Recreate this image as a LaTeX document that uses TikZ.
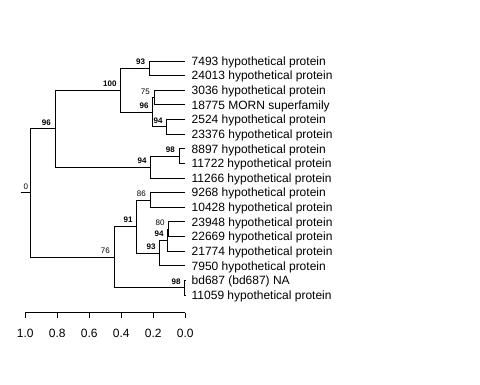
\documentclass[tikz,border=0pt]{standalone}
\usepackage{fontspec}
\setmainfont{Liberation Sans}
\begin{document}
\begin{tikzpicture}[x=1pt,y=-1pt,
  edge/.style={draw=black,line width=0.8pt},
  leaf/.style={anchor=west,inner xsep=6.2pt,inner ysep=0pt,text height=8.6pt,text depth=0pt,font=\fontsize{12}{12}\selectfont},
  bs/.style={anchor=base east,inner sep=0pt,font=\fontsize{8}{8}\selectfont},
  bsb/.style={anchor=base east,inner sep=0pt,font=\fontsize{8}{8}\selectfont\bfseries},
  ticklab/.style={anchor=center,inner sep=0pt,text height=8.6pt,text depth=0pt,font=\fontsize{12}{12}\selectfont}]
\useasboundingbox (0,0) rectangle (480,384);
% internal nodes
\coordinate (rootstub) at (20.7,192.85);
\coordinate (root) at (30.7,192.85);
\coordinate (A) at (55,128.64);
\coordinate (B) at (120.7,90.25);
\coordinate (C) at (149.3,68.31);
\coordinate (D) at (152.7,112.19);
\coordinate (E) at (154,97.56);
\coordinate (F) at (166.7,126.81);
\coordinate (G) at (150.7,167.03);
\coordinate (H) at (179,156.06);
\coordinate (I) at (114,257.07);
\coordinate (J) at (184.8,287.69);
\coordinate (K) at (136.7,226.45);
\coordinate (L) at (150,199.94);
\coordinate (M) at (159.7,252.95);
\coordinate (N) at (167.7,240.16);
\coordinate (O) at (168.7,229.19);
% leaves
\node[leaf] (l0) at (185.3,61) {7493 hypothetical protein};
\node[leaf] (l1) at (185.3,75.625) {24013 hypothetical protein};
\node[leaf] (l2) at (185.3,90.25) {3036 hypothetical protein};
\node[leaf] (l3) at (185.3,104.875) {18775 MORN superfamily};
\node[leaf] (l4) at (185.3,119.5) {2524 hypothetical protein};
\node[leaf] (l5) at (185.3,134.125) {23376 hypothetical protein};
\node[leaf] (l6) at (185.3,148.75) {8897 hypothetical protein};
\node[leaf] (l7) at (185.3,163.375) {11722 hypothetical protein};
\node[leaf] (l8) at (185.3,178) {11266 hypothetical protein};
\node[leaf] (l9) at (185.3,192.625) {9268 hypothetical protein};
\node[leaf] (l10) at (185.3,207.25) {10428 hypothetical protein};
\node[leaf] (l11) at (185.3,221.875) {23948 hypothetical protein};
\node[leaf] (l12) at (185.3,236.5) {22669 hypothetical protein};
\node[leaf] (l13) at (185.3,251.125) {21774 hypothetical protein};
\node[leaf] (l14) at (185.3,265.75) {7950 hypothetical protein};
\node[leaf] (l15) at (185.3,280.375) {bd687 (bd687) NA};
\node[leaf] (l16) at (185.3,295) {11059 hypothetical protein};
% edges
\draw[edge] (rootstub) -- (root);
\draw[edge] (root) |- (A);
\draw[edge] (root) |- (I);
\draw[edge] (A) |- (B);
\draw[edge] (A) |- (G);
\draw[edge] (B) |- (C);
\draw[edge] (B) |- (D);
\draw[edge] (C) |- (l0.west);
\draw[edge] (C) |- (l1.west);
\draw[edge] (D) |- (E);
\draw[edge] (D) |- (F);
\draw[edge] (E) |- (l2.west);
\draw[edge] (E) |- (l3.west);
\draw[edge] (F) |- (l4.west);
\draw[edge] (F) |- (l5.west);
\draw[edge] (G) |- (H);
\draw[edge] (G) |- (l8.west);
\draw[edge] (H) |- (l6.west);
\draw[edge] (H) |- (l7.west);
\draw[edge] (I) |- (K);
\draw[edge] (I) |- (J);
\draw[edge] (K) |- (L);
\draw[edge] (K) |- (M);
\draw[edge] (L) |- (l9.west);
\draw[edge] (L) |- (l10.west);
\draw[edge] (M) |- (N);
\draw[edge] (M) |- (l14.west);
\draw[edge] (N) |- (O);
\draw[edge] (N) |- (l13.west);
\draw[edge] (O) |- (l11.west);
\draw[edge] (O) |- (l12.west);
\draw[edge] (J) |- (l15.west);
\draw[edge] (J) |- (l16.west);
% bootstrap labels
\node[bs]  (broot) at ([xshift=-2.5pt,yshift=3.5pt]root) {0};
\node[bsb] (bA) at ([xshift=-4pt,yshift=3.5pt]A) {96};
\node[bsb] (bB) at ([xshift=-4pt,yshift=3.5pt]B) {100};
\node[bsb] (bC) at ([xshift=-4pt,yshift=3.5pt]C) {93};
\node[bsb] (bD) at ([xshift=-4pt,yshift=3.5pt]D) {96};
\node[bs]  (bE) at ([xshift=-4pt,yshift=3.5pt]E) {75};
\node[bsb] (bF) at ([xshift=-4pt,yshift=3.5pt]F) {94};
\node[bsb] (bG) at ([xshift=-4pt,yshift=3.5pt]G) {94};
\node[bsb] (bH) at ([xshift=-4pt,yshift=3.5pt]H) {98};
\node[bs]  (bI) at ([xshift=-4pt,yshift=3.5pt]I) {76};
\node[bsb] (bJ) at ([xshift=-4pt,yshift=3.5pt]J) {98};
\node[bsb] (bK) at ([xshift=-4pt,yshift=3.5pt]K) {91};
\node[bs]  (bL) at ([xshift=-4pt,yshift=3.5pt]L) {86};
\node[bsb] (bM) at ([xshift=-4pt,yshift=3.5pt]M) {93};
\node[bsb] (bN) at ([xshift=-4pt,yshift=3.5pt]N) {94};
\node[bs]  (bO) at ([xshift=-4pt,yshift=3.5pt]O) {80};
% axis
\coordinate (axl) at (25.3,312.7);
\coordinate (axr) at (185.3,312.7);
\draw[edge] (axl) -- (axr);
\foreach \v/\x [count=\i] in {1.0/25.3,0.8/57.3,0.6/89.3,0.4/121.3,0.2/153.3,0.0/185.3}{
  \coordinate (tk\i) at (\x,312.7);
  \coordinate (tb\i) at (\x,318.3);
  \draw[edge] (tk\i) -- (tb\i);
  \node[ticklab] (tl\i) at (\x,333.3) {\v};
}
\end{tikzpicture}
\end{document}
